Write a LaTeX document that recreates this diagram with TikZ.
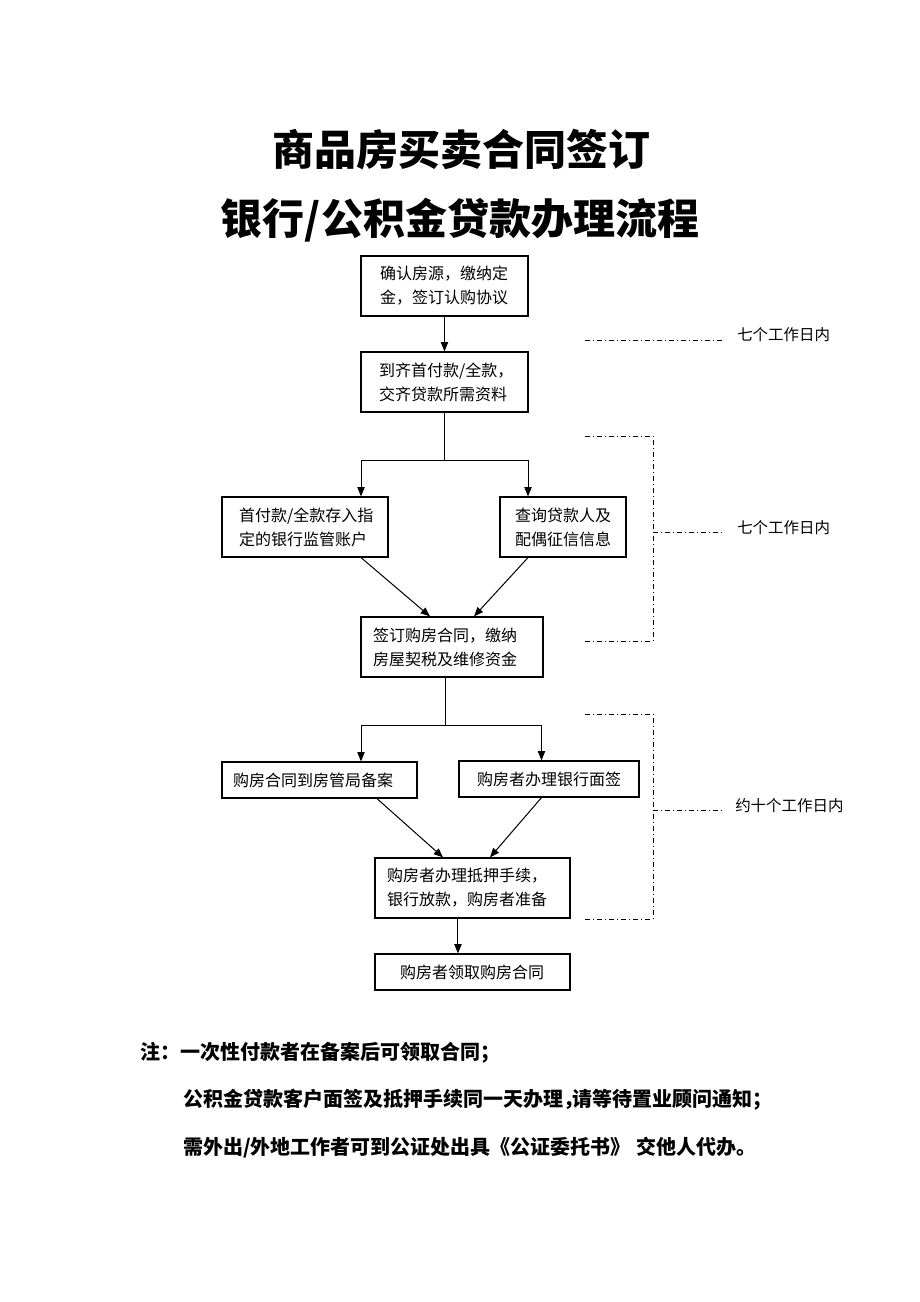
\documentclass[tikz,border=0pt]{standalone}
\usepackage{fontspec}
\setmainfont{Noto Sans CJK SC}
\usetikzlibrary{arrows.meta}
\begin{document}
\begin{tikzpicture}[x=0.75pt,y=-0.75pt,
  box/.style={draw,line width=0.9pt,align=left,inner ysep=0pt,font=\fontsize{12pt}{18pt}\selectfont},
  two/.style={minimum height=45pt},
  one/.style={minimum height=27pt},
  arr/.style={-{Triangle[length=7pt,width=5.5pt]},line width=0.75pt},
  ln/.style={line width=0.75pt},
  dd/.style={line width=0.75pt,dash pattern=on 3.75pt off 2.25pt on 0.75pt off 2.25pt},
  lab/.style={anchor=west,inner sep=0pt,font=\fontsize{11.6pt}{14pt}\selectfont},
  note/.style={anchor=west,inner sep=0pt,font=\fontsize{15pt}{18pt}\selectfont\bfseries}]
\useasboundingbox (0,0) rectangle (920,1302);
% titles
\node[font=\fontsize{31.5pt}{36pt}\selectfont\bfseries] (t1) at (461,150) {商品房买卖合同签订};
\node[font=\fontsize{31.5pt}{36pt}\selectfont\bfseries] (t2) at (460,220) {银行/公积金贷款办理流程};
% boxes
\node[box,two,inner xsep=14.25pt,text width=96.75pt] (b1) at (444.5,286) {确认房源，缴纳定\\金，签订认购协议};
\node[box,two,inner xsep=13.5pt,text width=98.25pt] (b2) at (444.5,382) {到齐首付款/全款，\\交齐贷款所需资料};
\node[box,two,inner xsep=12.75pt,text width=99pt] (b3) at (305,527) {首付款/全款存入指\\定的银行监管账户};
\node[box,two,inner xsep=11.25pt,text width=72pt] (b4) at (563,527) {查询贷款人及\\配偶征信信息};
\node[box,two,inner xsep=9pt,text width=118.5pt] (b5) at (452,647) {签订购房合同，缴纳\\房屋契税及维修资金};
\node[box,one,inner xsep=8.25pt,text width=129.75pt] (b6) at (319.5,780) {购房合同到房管局备案};
\node[box,one,inner xsep=13.5pt,text width=108pt] (b7) at (549,779) {购房者办理银行面签};
\node[box,two,inner xsep=9pt,text width=128.25pt] (b8) at (472.5,888) {购房者办理抵押手续，\\银行放款，购房者准备};
\node[box,one,inner xsep=18.75pt,text width=108.75pt] (b9) at (472.5,972) {购房者领取购房合同};
% connectors
\draw[arr] (b1.south) -- (b2.north);
\coordinate (s1) at (444.5,460);
\coordinate (c3) at (361,460);
\coordinate (c4) at (528,460);
\draw[ln] (b2.south) -- (s1);
\draw[arr] (s1) -- (c3) -- (c3 |- b3.north);
\draw[arr] (s1) -- (c4) -- (c4 |- b4.north);
\draw[arr] (c3 |- b3.south) -- ([xshift=-16.5pt]b5.north);
\draw[arr] (c4 |- b4.south) -- ([xshift=16.5pt]b5.north);
\coordinate (s2) at (445,725);
\coordinate (c6) at (361,725);
\coordinate (c7) at (541.5,725);
\draw[ln] ([xshift=-5.25pt]b5.south) -- (s2);
\draw[arr] (s2) -- (c6) -- (c6 |- b6.north);
\draw[arr] (s2) -- (c7) -- (c7 |- b7.north);
\draw[arr] ([xshift=43.1pt]b6.south) -- ([xshift=-22.1pt]b8.north);
\draw[arr] (c7 |- b7.south) -- ([xshift=13.1pt]b8.north);
\draw[arr] ([xshift=-10.9pt]b8.south) -- ([xshift=-10.9pt]b9.north);
% time brackets
\coordinate (d1a) at (585,340);
\coordinate (d1b) at (722,340);
\draw[dd] (d1a) -- (d1b);
\node[lab] (l1) at (737,335) {七个工作日内};
\coordinate (e1) at (585,436);
\coordinate (e2) at (653,436);
\coordinate (e3) at (653,641);
\coordinate (e4) at (585,641);
\coordinate (e5) at (653,532.5);
\coordinate (e6) at (722,532.5);
\draw[dd] (e1) -- (e2) -- (e3) -- (e4);
\draw[dd] (e5) -- (e6);
\node[lab] (l2) at (737,528) {七个工作日内};
\coordinate (f1) at (585,714);
\coordinate (f2) at (653,714);
\coordinate (f3) at (653,919);
\coordinate (f4) at (585,919);
\coordinate (f5) at (653,810);
\coordinate (f6) at (722,810);
\draw[dd] (f1) -- (f2) -- (f3) -- (f4);
\draw[dd] (f5) -- (f6);
\node[lab] (l3) at (735,806) {约十个工作日内};
% notes
\node[note] (n1) at (140,1053) {注：一次性付款者在备案后可领取合同；};
\node[note] (n2) at (183,1100) {公积金贷款客户面签及抵押手续同一天办理，\kern-8pt 请等待置业顾问通知；};
\node[note] (n3) at (183,1148) {需外出/外地工作者可到公证处出具《公证委托书》\kern4pt 交他人代办。};
\end{tikzpicture}
\end{document}
